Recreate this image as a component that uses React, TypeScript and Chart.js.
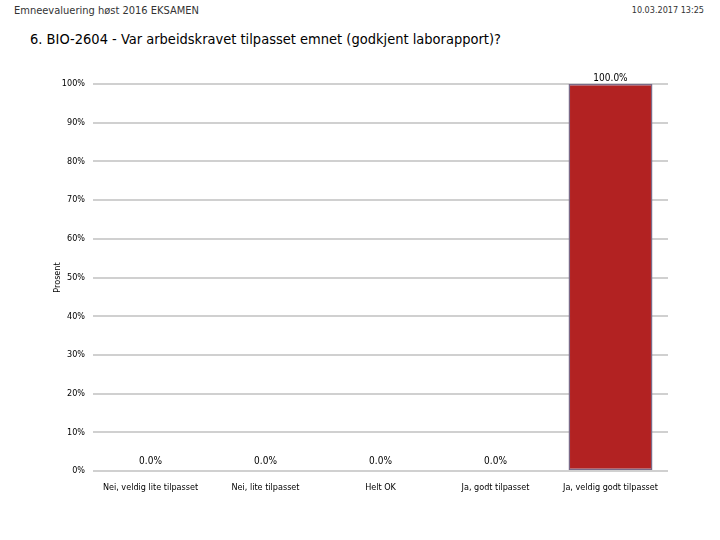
import { useEffect, useRef } from "react";
import { Chart, registerables } from "chart.js";

Chart.register(...registerables);

const categories = [
  "Nei, veldig lite tilpasset",
  "Nei, lite tilpasset",
  "Helt OK",
  "Ja, godt tilpasset",
  "Ja, veldig godt tilpasset",
];
const percentValues = [0, 0, 0, 0, 100];
const yTicks = [0, 10, 20, 30, 40, 50, 60, 70, 80, 90, 100];

const FONT = "'Liberation Sans Narrow', 'DejaVu Sans Condensed', sans-serif";

const valueLabels = {
  id: "valueLabels",
  afterDatasetsDraw(chart: Chart) {
    const { ctx } = chart;
    const meta = chart.getDatasetMeta(0);
    ctx.save();
    ctx.font = `10px ${FONT}`;
    ctx.fillStyle = "#000";
    ctx.textAlign = "center";
    ctx.textBaseline = "bottom";
    meta.data.forEach((bar: any, i: number) => {
      const v = percentValues[i];
      const y = v === 0 ? bar.y - 5 : bar.y - 1;
      ctx.fillText(v.toFixed(1) + "%", bar.x, y);
    });
    ctx.restore();
  },
};

export default function App() {
  const canvasRef = useRef<HTMLCanvasElement>(null);
  const chartRef = useRef<Chart | null>(null);

  useEffect(() => {
    if (!canvasRef.current) return;
    chartRef.current?.destroy();

    chartRef.current = new Chart(canvasRef.current, {
      type: "bar",
      data: {
        labels: categories,
        datasets: [
          {
            data: percentValues,
            backgroundColor: "#b22222",
            borderColor: "#7a6a88",
            borderWidth: 1.5,
            borderSkipped: false,
            barPercentage: 0.73,
            categoryPercentage: 1,
          },
        ],
      },
      options: {
        animation: false,
        responsive: false,
        maintainAspectRatio: false,
        layout: { padding: { top: 84, right: 52, bottom: 0, left: 0 } },
        plugins: {
          legend: { display: false },
          tooltip: { enabled: false },
          title: { display: false },
        },
        scales: {
          x: {
            grid: { display: false },
            border: { display: false },
            ticks: {
              color: "#000",
              font: { size: 9, family: FONT },
              padding: 3,
              maxRotation: 0,
              autoSkip: false,
            },
            afterFit: (scale: any) => {
              scale.height = 69;
            },
          },
          y: {
            min: 0,
            max: 100,
            afterBuildTicks: (scale: any) => {
              scale.ticks = yTicks.map((v) => ({ value: v }));
            },
            grid: { color: "#d0d0d0", lineWidth: 2, drawTicks: false },
            border: { display: false },
            ticks: {
              color: "#000",
              font: { size: 9, family: FONT },
              padding: 8,
              callback: (v: any) => v + "%",
            },
            title: {
              display: true,
              text: "Prosent",
              color: "#000",
              font: { size: 9, family: FONT },
              padding: { top: 52, bottom: 0 },
            },
            afterFit: (scale: any) => {
              scale.width = 93;
            },
          },
        },
      },
      plugins: [valueLabels],
    });

    return () => {
      chartRef.current?.destroy();
      chartRef.current = null;
    };
  }, []);

  return (
    <div
      style={{
        position: "absolute",
        left: 0,
        top: 0,
        width: 720,
        height: 540,
        background: "#fff",
        fontFamily: FONT,
      }}
    >
      <div style={{ position: "absolute", left: 14, top: 4, fontSize: 11, color: "#333" }}>
        Emneevaluering høst 2016 EKSAMEN
      </div>
      <div style={{ position: "absolute", right: 16, top: 5, fontSize: 9, color: "#333" }}>
        10.03.2017 13:25
      </div>
      <div style={{ position: "absolute", left: 30, top: 31, fontSize: 14.5, color: "#000" }}>
        6. BIO-2604 - Var arbeidskravet tilpasset emnet (godkjent laborapport)?
      </div>
      <canvas
        ref={canvasRef}
        width={720}
        height={540}
        style={{ position: "absolute", left: 0, top: 0, width: 720, height: 540 }}
      />
    </div>
  );
}
